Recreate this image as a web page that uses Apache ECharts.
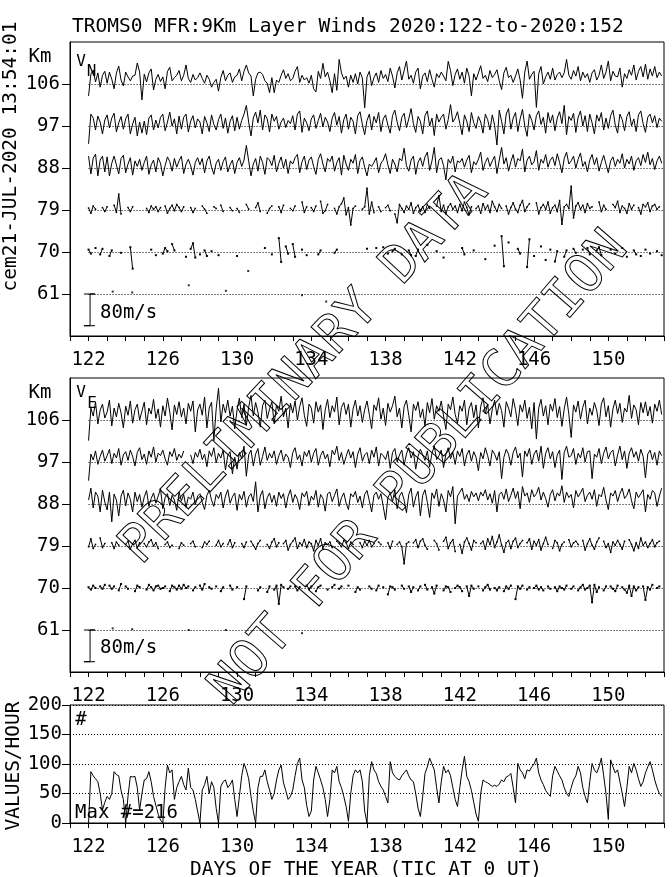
<!DOCTYPE html>
<html><head><meta charset="utf-8">
<script src="https://cdn.jsdelivr.net/npm/echarts@6/dist/echarts.min.js"></script>
<style>html,body{margin:0;padding:0;background:#fff}#c{width:672px;height:877px}</style>
</head><body><div id="c"></div>
<script>
// ---------- data ----------
const startDay = 122;          // first sample (day of year)
const perDay = 8;              // 3-hourly samples
const dayTickLabels = [122,126,130,134,138,142,146,150];
const heightLabels = [61,70,79,88,97,106];
const countLabels = [0,50,100,150,200];
const scaleBarMs = 80;

// V_N (m/s) by height
const vN106 = [
-30,25,35,5,28,-8,22,32, 2,30,12,-12,28,45,10,-5, 30,18,8,20,22,53,30,-40, 25,5,28,38,-15,12,24,6,
18,-12,32,42,8,16,22,34, 8,22,48,14,4,24,10,16, 28,14,2,22,12,-8,4,12, -18,16,34,8,22,28,4,18,
22,38,8,32,48,28,20,-30, 12,28,30,24,8,2,-22,16, -22,10,4,22,36,14,26,8, 14,32,44,4,22,10,16,2,
22,-12,-20,32,14,52,18,30, 8,-22,26,-16,62,28,12,20, -8,22,4,26,0,30,15,-60, 18,32,-4,16,28,4,34,14,
24,6,40,20,-10,28,44,10, 34,58,12,22,2,30,40,-12, 20,28,6,36,12,-8,26,16, 30,20,8,57,34,-4,24,38,
12,30,2,40,20,-30,26,10, 28,46,14,22,6,34,16,24, 36,8,-14,28,42,16,22,4, 20,38,10,-36,30,58,12,24,
32,-59,26,44,0,18,30,12, 40,10,24,30,16,28,62,22, 12,34,20,44,8,30,16,26, 4,28,36,10,22,48,14,30,
58,8,32,20,18,40,-8,26, 14,36,22,48,10,32,44,18, 50,12,38,20,44,16,30,20];
const vN97 = [
-45,30,20,-10,25,10,-20,15, 28,-5,20,32,-15,8,24,-8, 18,30,-20,5,22,-25,10,-18, 12,-22,20,28,-10,15,-5,22,
30,-12,10,35,0,18,-20,25, -8,22,30,-15,12,26,-5,18, 10,-20,24,8,-14,28,4,-10, 16,30,-6,20,-18,12,26,-12,
22,-8,14,30,52,10,-25,20, 35,8,40,-10,28,18,-15,30, 12,24,-8,10,20,-4,14,6, 26,-10,30,38,-16,20,8,-12,
18,28,-6,14,32,-2,22,10, -14,20,34,2,24,-18,16,30, -8,22,12,-20,26,36,4,-22, 14,30,-10,24,8,34,-14,18,
28,2,-18,26,40,10,-12,22, 32,-4,18,44,6,-16,24,12, -20,26,38,0,20,-24,30,10, 22,30,-8,16,54,10,20,36,
6,-22,28,12,-14,34,8,-6, 24,10,-18,30,16,-10,28,2, -48,40,12,-20,30,44,-8,20, 34,-14,18,42,0,-26,30,14,
-10,26,38,4,22,-18,34,8, 28,-12,20,36,6,52,-22,24, 14,32,-16,22,38,0,26,-14, 30,8,-20,28,12,34,-10,20,
-6,26,40,2,-18,30,16,-12, 24,36,0,18,-14,28,38,6, -16,22,30,8,26,-4,20,12];
const vN88 = [
30,-15,25,35,-20,20,30,-10, 28,-20,12,30,8,-15,24,32, -12,10,26,-18,18,4,22,-6, 14,30,-16,8,20,-10,26,12,
-20,6,28,16,-8,24,2,18, 30,-14,10,22,6,-18,14,26, 8,24,-12,18,30,2,-16,12, 22,-6,16,28,-10,8,20,-14,
14,26,4,20,57,18,-20,10, 24,-8,30,14,-16,26,20,6, 32,-10,12,28,0,22,-14,18, 10,26,34,-12,16,30,-4,20,
28,4,-16,22,36,10,-10,24, 16,30,-8,14,26,-18,32,10, -6,22,12,34,-14,18,28,2, -20,10,4,14,26,-12,12,20,
36,8,-14,22,10,-10,24,18, 50,6,-8,20,30,-16,14,26, 4,28,40,-6,18,52,-12,20, 26,6,-30,22,12,30,-10,18,
14,24,2,20,32,-12,16,8, 22,40,-6,14,26,4,18,30, -14,20,52,10,26,-8,16,34, 2,24,18,48,-10,20,30,8,
16,44,-6,22,12,34,2,20, 28,6,36,14,-12,24,40,10, 18,30,0,22,38,4,16,-10, 20,34,8,26,-8,14,32,10,
-12,18,28,4,22,12,36,0, 22,10,30,-6,18,26,6,34, 14,40,8,24,-4,18,30,12];
const vN79 = [
5,-8,10,2,null,null,6,-4, 8,null,null,12,-6,40,-10,null, null,6,-4,8,null,null,null,null, null,4,-6,10,2,8,-4,6,
null,10,-8,4,12,-2,14,6, -4,8,null,null,6,-6,4,null, null,10,2,-8,null,null,8,4, null,12,-4,null,null,6,-2,null,
4,-6,null,null,14,2,null,null, 6,18,-4,null,null,-8,4,10, null,null,8,-6,12,null,null,4, -2,10,null,null,20,-6,8,null,
6,-4,10,null,22,-8,-2,14, null,null,4,-10,8,16,30,-12, 6,-38,4,10,null,null,2,8, 55,-10,20,-6,null,8,-4,null,
6,12,-2,null,-10,-32,14,4, -6,10,2,18,-8,6,12,-4, 8,-6,14,4,null,null,10,36, -4,12,-10,8,16,2,10,-6,
14,-2,20,6,-12,8,null,4, 10,-8,16,2,12,-6,22,8, -4,14,4,null,10,-10,6,18, 2,-6,12,24,-4,8,16,null,
null,18,-10,6,14,2,20,-8, 6,12,-4,24,-36,8,14,4, 60,-20,10,18,2,12,-6,16, 4,8,null,null,20,-4,12,2,
null,null,14,6,22,-6,10,4, -8,16,2,12,null,6,-10,14, 8,18,-4,10,14,2,8,null];
const vN70 = [
6,-4,null,10,null,-6,8,null, null,-10,4,null,null,null,-2,null, null,null,12,-42,null,null,null,null, null,null,null,6,null,-8,null,null,
-4,10,2,null,20,4,null,null, null,null,-12,null,8,22,-14,null, -6,null,4,-10,null,2,null,null, -8,null,null,null,null,null,null,null,
-10,null,null,null,null,null,null,null, null,null,null,null,10,null,null,-6, null,null,35,-25,null,14,-4,null, 20,-12,null,null,6,null,-8,null,
null,null,null,-6,4,null,null,null, null,null,-2,6,null,null,null,null, null,null,null,null,null,null,null,null, 8,null,null,null,10,null,null,12,
null,-4,null,2,8,null,null,-6, null,null,4,-8,null,-10,6,null, null,null,18,null,null,null,2,null, null,-14,null,null,null,null,null,null,
null,10,-6,null,null,null,4,null, null,null,null,-18,null,null,null,16, null,null,40,-36,null,24,null,null, null,8,-4,null,null,-38,32,null,
-10,null,null,14,null,-20,null,6, null,-24,2,null,null,-12,4,null, null,8,-2,null,null,6,null,10, -6,null,null,4,12,-8,null,null,
null,6,null,-4,null,null,10,null, -12,null,null,4,-6,null,-10,null, 6,null,-4,null,null,2,null,-8];
const n61Days = [123.3,124.35,127.4,129.4,130.6,133.5,134.8];
const n61Vals = [6,4,22,8,58,-3,-19];

// V_E (m/s) by height
const vE106 = [
-52,30,10,45,-10,25,40,5, 20,50,-15,30,8,42,18,-20, 35,12,48,-8,26,40,0,22, 45,-12,30,15,52,4,28,-18,
36,10,55,20,-25,38,14,46, 8,30,-10,42,22,48,-30,25, 40,12,58,-20,30,45,-52,28, 80,-5,40,18,50,10,35,-22,
26,55,6,40,-14,32,62,10, 44,20,-18,36,50,4,28,46, -10,38,22,60,8,30,-20,42, 18,48,0,34,56,12,-16,40,
30,-8,46,20,38,-24,26,52, 6,36,20,58,-12,32,44,14, 40,-18,28,50,10,36,-6,26, 48,14,-22,38,24,56,2,30,
-14,42,20,36,60,8,30,-20, 34,50,12,-30,40,24,46,6, 28,-16,44,18,54,2,36,22, 48,10,-24,40,26,58,14,-8,
36,22,50,-12,30,44,6,38, -20,34,56,16,40,-10,28,50, 12,42,24,-18,46,30,8,54, 26,-14,38,20,50,4,32,-22,
44,-48,30,52,10,36,-12,40, 22,54,6,34,-16,28,58,14, -44,38,20,48,2,32,50,-10, 30,12,44,24,-14,40,56,8,
36,-18,28,50,16,42,-6,30, 20,62,4,38,26,-12,44,18, 46,10,34,-8,40,22,50,14];
const vE97 = [
-47,20,5,28,-6,14,30,2, 16,32,-4,22,10,34,-8,18, 26,4,30,14,-10,24,36,6, 20,-6,28,12,38,0,22,16,
30,8,-8,26,14,34,4,20, 10,28,null,null,18,-4,24,12, 32,6,20,-12,28,14,36,-2, 22,10,30,-20,16,26,-30,12,
-18,24,8,40,-36,18,30,-10, 20,34,-8,14,38,4,22,10, 28,-6,16,30,2,20,12,-14, 24,36,6,18,-10,26,14,30,
0,22,34,-8,16,28,8,20, -12,30,18,40,4,24,-6,14, 32,10,26,-14,20,36,2,18, 24,-4,30,12,38,-10,22,16,
6,28,-16,24,34,0,18,30, -8,20,36,10,26,-18,14,32, 18,4,28,-12,22,40,6,16, 30,-14,20,36,8,24,-6,28,
14,34,-10,18,30,2,26,12, -22,24,8,36,16,-10,30,20, 4,26,-42,12,32,20,-8,24, 38,10,22,-38,28,14,34,-6,
20,30,2,40,-16,22,36,8, 26,-14,18,30,-44,24,40,12, 16,34,-6,22,10,36,0,26, 28,-42,20,12,34,-4,22,38,
8,24,30,-10,18,40,6,28, -16,22,36,12,26,2,32,14, -40,20,30,6,24,-8,28,16];
const vE88 = [
10,40,-10,30,20,-20,35,5, -15,30,-45,25,10,-30,20,35, -5,28,12,-20,30,6,24,-8, 18,34,-6,14,28,2,20,38,
-12,16,26,-4,22,10,-16,30, 8,24,-8,18,12,30,-2,20, 26,4,-14,22,34,10,-6,24, 14,30,-10,20,36,2,18,28,
-16,24,10,32,-8,18,26,6, 56,-20,20,34,-12,16,28,4, 22,-6,30,14,26,-10,20,36, 4,24,12,-14,28,18,32,-4,
20,10,34,-8,24,14,-18,26, 30,6,22,38,-6,16,28,2, -14,26,18,32,4,20,-10,24, 34,8,-20,22,30,12,26,-6,
-40,16,28,6,36,-12,20,30, 10,-22,24,40,-8,18,32,-30, 22,36,4,-34,28,14,38,-6, 26,10,-20,34,18,44,-50,20,
30,40,12,24,6,32,18,28, 8,30,20,36,10,26,2,34, -20,24,30,12,38,6,22,40, 14,32,-12,44,20,28,4,36,
18,26,42,10,30,14,-8,24, 36,8,28,20,46,4,30,16, 24,-10,34,18,28,40,6,22, 30,12,36,-6,24,18,42,10,
-14,28,20,34,6,26,40,14, 22,38,8,-12,30,16,26,36, -20,24,12,34,28,-6,20,40];
const vE79 = [
-2,18,-6,4,null,20,-4,6, null,null,8,-6,10,2,null,null, 4,12,-8,6,14,-4,8,null, 6,-2,10,16,0,8,-6,null,
null,4,10,-4,2,null,null,-6, 8,2,null,null,6,12,-2,null, null,-4,10,4,12,null,null,2, 14,-2,6,null,4,16,-4,8,
null,null,6,-4,10,null,12,2, -8,6,14,null,null,4,-6,10, 18,-2,8,null,6,14,-10,4, 12,20,-6,8,2,16,-4,10,
6,-12,14,2,18,-6,8,4, 10,-4,null,12,6,-2,14,8, -6,10,4,null,null,8,-4,12, 2,14,-2,6,null,10,4,null,
null,8,-6,12,null,4,10,-2, -45,6,10,null,8,16,-4,12, 18,2,-8,null,null,14,6,-10, null,12,22,-6,8,16,-14,null,
4,-18,10,20,6,-10,14,8, null,6,12,-8,18,4,24,-4, 10,28,2,-16,8,14,-6,12, 20,-4,6,14,null,8,18,-8,
12,2,16,-10,6,22,4,null, -6,14,8,-12,4,10,null,16, -2,8,12,4,null,14,-10,6, 18,2,-8,10,20,null,12,-4,
6,-16,10,2,14,4,-8,12, null,16,4,-12,8,-6,20,2, 10,-4,6,16,-2,8,12,null];
const vE70 = [
2,-4,6,0,null,4,-2,8, null,6,-2,4,null,-6,10,null, 4,-2,null,null,-8,6,2,null, null,-4,8,2,-6,4,6,-2,
0,4,null,-8,6,2,-4,6, -2,8,0,4,null,-6,2,null, 6,-4,10,null,2,-2,null,4, null,-8,2,null,null,6,-4,null,
2,null,null,-28,4,null,null,null, null,-6,2,null,null,-10,4,null, -4,6,-40,8,2,null,-2,4, null,4,-6,2,null,null,6,-2,
4,null,-8,2,6,null,null,-4, null,2,8,null,-2,4,null,null, 6,null,null,-10,2,-4,null,null, null,4,-2,null,-6,6,null,2,
null,-16,4,2,-4,null,null,6, -2,null,4,-10,2,null,-6,4, null,8,-4,null,2,-14,6,null, null,-6,4,2,-10,null,0,6,
2,-8,null,4,-20,6,-2,null, 4,null,-6,2,8,-4,null,0, -6,2,null,-8,4,-2,6,null, -28,4,-2,6,null,-4,2,null,
0,6,-4,2,-6,null,4,-2, null,2,-8,4,0,-4,6,null, -2,4,null,-6,2,8,-4,0, 6,-36,8,-10,2,null,-6,4,
null,4,-2,-8,6,null,2,-4, -12,6,-20,4,-6,2,null,4, -30,2,-4,8,null,0,4,null];
const e61Days = [123.3,124.35,127.4,129.4,133.5];
const e61Vals = [4,2,0,0,-8];

// values per hour (3-hourly readings)
const valuesPerHour = [
0,87,80,75,70,50,22,35, 45,40,50,87,82,80,55,40, 0,45,79,78,79,60,22,50, 73,75,87,70,45,30,15,5,
0,60,98,85,90,40,60,70, 79,65,56,93,60,56,40,20, 0,56,65,79,50,70,60,25, 0,62,70,73,60,65,73,40,
11,45,80,101,90,75,45,20, 0,60,79,79,90,70,56,40, 50,73,90,98,68,55,40,45, 56,80,101,110,73,60,30,11,
20,73,96,85,73,60,40,11, 40,90,85,96,70,60,45,28, 3,50,80,90,85,90,70,20, 0,80,104,90,84,70,62,56,
45,34,104,85,79,75,73,80, 85,90,80,73,70,50,25,11, 45,84,95,110,100,90,60,34, 70,96,85,90,80,60,40,28,
60,90,113,79,70,55,35,15, 3,50,73,70,68,65,62,64, 62,66,73,70,78,80,84,60, 34,101,90,85,75,90,88,95,
100,110,85,73,65,55,50,45, 80,96,88,80,73,60,50,45, 60,73,80,96,85,60,45,34, 70,101,90,85,95,110,80,50,
6,107,95,85,90,70,50,28, 60,96,85,101,90,75,62,70, 85,95,104,90,73,60,50,45];

// ---------- chart ----------
const K = 0.085; // km of plot per m/s (80 m/s bar)
const FONT = '"DejaVu Sans Mono", monospace';
const chart = echarts.init(document.getElementById('c'), null, {renderer: 'canvas'});

function toXY(vals, base, scale) {
  return vals.map((v, i) => [startDay + i / perDay, v === null ? '-' : base + v * scale]);
}
function dotted(h) {
  return {silent: true, symbol: ['none','none'], label: {show: false}, animation: false,
    lineStyle: {type: [1,2], color: '#000', width: 1},
    data: [[{coord: [startDay, h]}, {coord: [153, h]}]]};
}
function trace(vals, h, gi, dots) {
  return {type: 'line', xAxisIndex: gi, yAxisIndex: gi, data: toXY(vals, h, K),
    showSymbol: !!dots, showAllSymbol: true, symbol: 'rect', symbolSize: dots || 2,
    itemStyle: {color: '#000'}, lineStyle: {color: '#000', width: 1},
    connectNulls: false, animation: false, silent: true, markLine: dotted(h)};
}
function dots61(days, vals, gi) {
  return {type: 'scatter', xAxisIndex: gi, yAxisIndex: gi, symbol: 'rect', symbolSize: 2,
    itemStyle: {color: '#000'}, data: days.map((d, i) => [d, 61 + vals[i] * K]),
    animation: false, silent: true, markLine: dotted(61)};
}
function scaleBar(gi) {
  const lo = 61 - scaleBarMs * K;
  return {type: 'line', xAxisIndex: gi, yAxisIndex: gi, showSymbol: false, animation: false, silent: true,
    lineStyle: {color: '#000', width: 1},
    data: [[121.75,61],[122.35,61],[122.08,61],[122.08,lo],[121.75,lo],[122.35,lo]]};
}

const xAx = (gi) => ({type: 'value', gridIndex: gi, min: 121, max: 153, interval: 1,
  axisLine: {lineStyle: {color: '#000', width: 1}},
  axisTick: {show: true, length: 5, lineStyle: {color: '#000'}},
  axisLabel: {formatter: v => dayTickLabels.includes(v) ? String(v) : '', color: '#000',
    fontFamily: FONT, fontSize: 19, margin: 15},
  splitLine: {show: false}});
const yAxKm = (gi) => ({type: 'value', gridIndex: gi, min: 52, max: 115,
  axisLine: {show: true, lineStyle: {color: '#000'}},
  axisTick: {show: true, length: 8, customValues: heightLabels, lineStyle: {color: '#000'}},
  axisLabel: {customValues: heightLabels, color: '#000', fontFamily: FONT, fontSize: 19, margin: 10},
  splitLine: {show: false}});

const T = (x, y, text, extra) => Object.assign({type: 'text', x: x, y: y, z: 50,
  style: Object.assign({text: text, fill: '#000', fontFamily: FONT, fontSize: 19,
    align: 'left', verticalAlign: 'middle'}, extra || {})});

const option = {
  backgroundColor: '#fff',
  animation: false,
  grid: [
    {left: 70, top: 42, width: 594, height: 294, show: true, borderColor: '#000', borderWidth: 1},
    {left: 70, top: 378, width: 594, height: 294, show: true, borderColor: '#000', borderWidth: 1},
    {left: 70, top: 705, width: 594, height: 118, show: true, borderColor: '#000', borderWidth: 1}
  ],
  xAxis: [xAx(0), xAx(1), xAx(2)],
  yAxis: [yAxKm(0), yAxKm(1),
    {type: 'value', gridIndex: 2, min: 0, max: 200, interval: 50,
     axisLine: {show: true, lineStyle: {color: '#000'}},
     axisTick: {show: true, length: 8, lineStyle: {color: '#000'}},
     axisLabel: {color: '#000', fontFamily: FONT, fontSize: 19, margin: 8},
     splitLine: {show: true, lineStyle: {type: [1,2], color: '#000', width: 1}}}],
  series: [
    trace(vN106, 106, 0), trace(vN97, 97, 0), trace(vN88, 88, 0), trace(vN79, 79, 0, 1.5),
    trace(vN70, 70, 0, 2), dots61(n61Days, n61Vals, 0), scaleBar(0),
    trace(vE106, 106, 1), trace(vE97, 97, 1), trace(vE88, 88, 1), trace(vE79, 79, 1, 1.5),
    trace(vE70, 70, 1, 2), dots61(e61Days, e61Vals, 1), scaleBar(1),
    {type: 'line', xAxisIndex: 2, yAxisIndex: 2, data: valuesPerHour.map((v, i) => [startDay + i / perDay, v]),
     showSymbol: false, lineStyle: {color: '#000', width: 1}, animation: false, silent: true}
  ],
  graphic: [
    T(72, 26.5, 'TROMS0 MFR:9Km Layer Winds 2020:122-to-2020:152', {fontSize: 19.5}),
    Object.assign(T(11, 156.5, 'cem21-JUL-2020 13:54:01', {align: 'center', fontSize: 19.5}), {rotation: Math.PI / 2}),
    T(40, 57, 'Km', {align: 'center'}),
    T(40, 393, 'Km', {align: 'center'}),
    T(81, 62, 'V', {align: 'center', fontSize: 16}),
    T(91.5, 71.5, 'N', {align: 'center', fontSize: 16}),
    T(81, 392.5, 'V', {align: 'center', fontSize: 16}),
    T(92, 403.5, 'E', {align: 'center', fontSize: 16}),
    T(100, 313.5, '80m/s'),
    T(100, 648.5, '80m/s'),
    T(81, 720, '#', {align: 'center'}),
    T(75, 813.5, 'Max #=216'),
    Object.assign(T(13.5, 766, 'VALUES/HOUR', {align: 'center', fontSize: 19.5}), {rotation: Math.PI / 2}),
    T(366, 870, 'DAYS OF THE YEAR (TIC AT 0 UT)', {align: 'center', fontSize: 19.5}),
    {type: 'text', x: 305, y: 370, rotation: 47 * Math.PI / 180, z: 100,
     style: {text: 'PRELIMINARY DATA', fontFamily: FONT, fontSize: 53, fill: 'none', stroke: '#000',
       lineWidth: 1, align: 'center', verticalAlign: 'middle'}},
    {type: 'text', x: 420, y: 469, rotation: 49 * Math.PI / 180, z: 100,
     style: {text: 'NOT FOR PUBLICATION', fontFamily: FONT, fontSize: 53, fill: 'none', stroke: '#000',
       lineWidth: 1, align: 'center', verticalAlign: 'middle'}}
  ]
};
chart.setOption(option);
</script>
</body></html>
